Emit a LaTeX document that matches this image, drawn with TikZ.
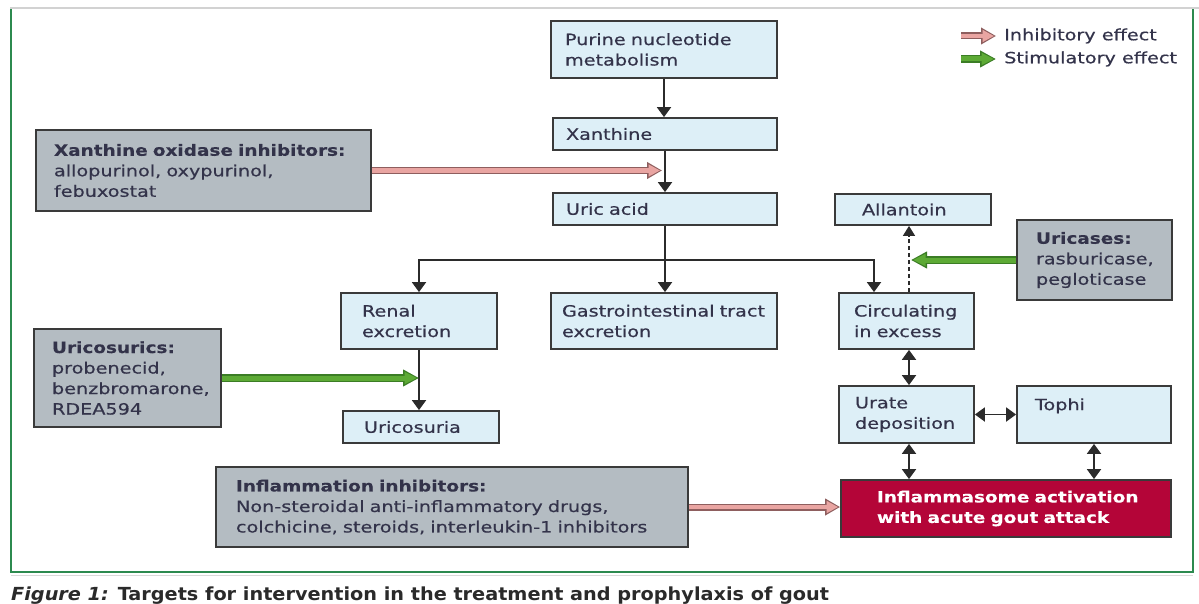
\documentclass[tikz,border=0pt]{standalone}
\usepackage{fontspec}
\setmainfont{DejaVu Sans}[FakeStretch=1.24,FakeBold=0.5,BoldFeatures={FakeStretch=1.19,FakeBold=0.2}]
\newfontfamily\capfont{DejaVu Sans}[FakeStretch=1.07]
\usetikzlibrary{arrows.meta,calc}
\definecolor{lightfill}{HTML}{DDEFF7}
\definecolor{grayfill}{HTML}{B4BCC2}
\definecolor{redfill}{HTML}{B40538}
\definecolor{boxline}{HTML}{3A3A3A}
\definecolor{arrcol}{HTML}{2B2B2B}
\definecolor{pinkfill}{HTML}{E9A5A2}
\definecolor{pinkline}{HTML}{8E5E5E}
\definecolor{greenfill}{HTML}{5DAA35}
\definecolor{greenline}{HTML}{3B7D25}
\definecolor{framegreen}{HTML}{2C8A4F}
\definecolor{txt}{HTML}{33334A}
\definecolor{capcol}{HTML}{2A2A2A}
\newcommand\mainfs{\fontsize{15.5}{20.5}\selectfont\hyphenpenalty=10000\exhyphenpenalty=10000\relax}
\tikzset{
  basebox/.style={draw=boxline, line width=1.8pt, inner ysep=0pt, align=left, font=\mainfs, text=txt},
  lbox/.style={basebox, fill=lightfill},
  gbox/.style={basebox, fill=grayfill},
  rbox/.style={basebox, fill=redfill, text=white, font=\mainfs\bfseries},
  arr/.style={draw=arrcol, line width=1.9pt, -{Triangle[length=10pt,width=14pt]}},
  darr/.style={draw=arrcol, line width=1.9pt, {Triangle[length=10pt,width=14pt]}-{Triangle[length=10pt,width=14pt]}},
  dasharr/.style={draw=arrcol, line width=1.3pt, dash pattern=on 4pt off 3pt, -{Triangle[length=10pt,width=12pt]}},
  inhib/.style={draw=pinkline, line width=7pt, -{Triangle[length=15pt,width=16pt]},
    postaction={draw=pinkfill, line width=4.5pt, -{Triangle[length=11.5pt,width=11.5pt]}, shorten >=2pt}},
  stim/.style={draw=greenline, line width=7.5pt, -{Triangle[length=16pt,width=16pt]},
    postaction={draw=greenfill, line width=5pt, -{Triangle[length=12.5pt,width=11.5pt]}, shorten >=2pt}},
  legtext/.style={anchor=west, inner sep=0pt, font=\mainfs, text=txt}
}
\begin{document}
\begin{tikzpicture}[x=1pt,y=-1pt]
\useasboundingbox (0,0) rectangle (1199,604);
\fill[white] (0,0) rectangle (1199,604);
% frame
\draw[gray!35, line width=1.5pt] (10,8) -- (1199,8);
\draw[framegreen, line width=2pt] (11,9) -- (11,572) -- (1193,572) -- (1193,9);
\draw[gray!30, line width=1pt] (11,575) -- (1193,575);

% boxes
\node[lbox, minimum width=226pt, minimum height=57pt, inner xsep=14pt, text width=198pt] (purine) at (664,49.5) {Purine nucleotide\\metabolism};
\node[lbox, minimum width=224pt, minimum height=32pt, inner xsep=13pt, text width=198pt] (xanthine) at (665,134) {Xanthine};
\node[lbox, minimum width=224pt, minimum height=32pt, inner xsep=13pt, text width=198pt] (uric) at (665,209) {Uric acid};
\node[lbox, minimum width=156pt, minimum height=31pt, inner xsep=27pt, text width=102pt] (allantoin) at (913,209.5) {Allantoin};
\node[lbox, minimum width=156pt, minimum height=56pt, inner xsep=21pt, text width=114pt] (renal) at (419,321) {Renal\\excretion};
\node[lbox, minimum width=226pt, minimum height=56pt, inner xsep=11pt, text width=204pt] (gastro) at (664,321) {\mbox{Gastrointestinal tract}\\excretion};
\node[lbox, minimum width=135pt, minimum height=56pt, inner xsep=15pt, text width=105pt] (circ) at (906.5,321) {Circulating\\in excess};
\node[lbox, minimum width=156pt, minimum height=32pt, inner xsep=21pt, text width=114pt] (uricosuria) at (421,427) {Uricosuria};
\node[lbox, minimum width=135pt, minimum height=57pt, inner xsep=16pt, text width=103pt] (urate) at (906.5,414.5) {Urate\\deposition};
\node[lbox, minimum width=154pt, minimum height=57pt, inner xsep=18pt, text width=118pt] (tophi) at (1094,414.5) {Tophi\\~};
\node[rbox, minimum width=330pt, minimum height=57pt, inner xsep=36pt, text width=258pt] (infl) at (1006,508.5) {\mbox{Inflammasome activation}\\\mbox{with acute gout attack}};

\node[gbox, minimum width=335pt, minimum height=81pt, inner xsep=18pt, text width=299pt] (xo) at (203.5,170.5) {\mbox{\textbf{Xanthine oxidase inhibitors:}}\\allopurinol, oxypurinol,\\febuxostat};
\node[gbox, minimum width=155pt, minimum height=80pt, inner xsep=19pt, text width=117pt] (uricases) at (1094.5,260) {\textbf{Uricases:}\\rasburicase,\\pegloticase};
\node[gbox, minimum width=187pt, minimum height=98pt, inner xsep=18pt, text width=151pt] (ucs) at (127.5,378) {\textbf{Uricosurics:}\\probenecid,\\benzbromarone,\\RDEA594};
\node[gbox, minimum width=472pt, minimum height=80pt, inner xsep=20pt, text width=432pt] (inh) at (452,507) {\textbf{Inflammation inhibitors:}\\\mbox{Non-steroidal anti-inflammatory drugs,}\\\mbox{colchicine, steroids, interleukin-1 inhibitors}};

% legend
\node[legtext] (leg1) at (1004,36) {Inhibitory effect};
\node[legtext] (leg2) at (1004,59) {Stimulatory effect};
\coordinate (leg1s) at (961,36);
\coordinate (leg2s) at (961,59);
\draw[inhib] (leg1s) -- ([xshift=-8pt]leg1.west);
\draw[stim] (leg2s) -- ([xshift=-8pt]leg2.west);

% main flow
\draw[arr] (purine.south) -- (purine.south |- xanthine.north);
\draw[arr] (xanthine.south) -- (xanthine.south |- uric.north);
\draw[inhib] (xo.east) -- ([xshift=-3pt]xo.east -| xanthine.south);
\draw[arr] (uric.south) -- (uric.south |- gastro.north);
\coordinate (br) at (665,260);
\draw[arr] (br) -| (renal.north);
\draw[arr] (br) -| ([xshift=-32.5pt]circ.north);
\draw[dasharr] ([xshift=2.5pt]circ.north) -- ([xshift=2.5pt]circ.north |- allantoin.south);
\draw[stim] (uricases.west) -- ([xshift=4.5pt]uricases.west -| circ.north);
\draw[arr] (renal.south) -- (renal.south |- uricosuria.north);
\draw[stim] (ucs.east) -- (ucs.east -| renal.south);
\draw[darr] ([xshift=2.5pt]circ.south) -- ([xshift=2.5pt]urate.north);
\draw[darr] (urate.east) -- (tophi.west);
\draw[darr] ([xshift=2.5pt]urate.south) -- ([xshift=2.5pt]urate.south |- infl.north);
\draw[darr] (tophi.south) -- (tophi.south |- infl.north);
\draw[inhib] (inh.east) -- (infl.west |- inh.east);

% caption
\node[anchor=base west, inner sep=0pt, font=\capfont\fontsize{18}{20}\selectfont\bfseries, text=capcol] (cap) at (11,600) {\textit{Figure 1:} Targets for intervention in the treatment and prophylaxis of gout};
\end{tikzpicture}
\end{document}
